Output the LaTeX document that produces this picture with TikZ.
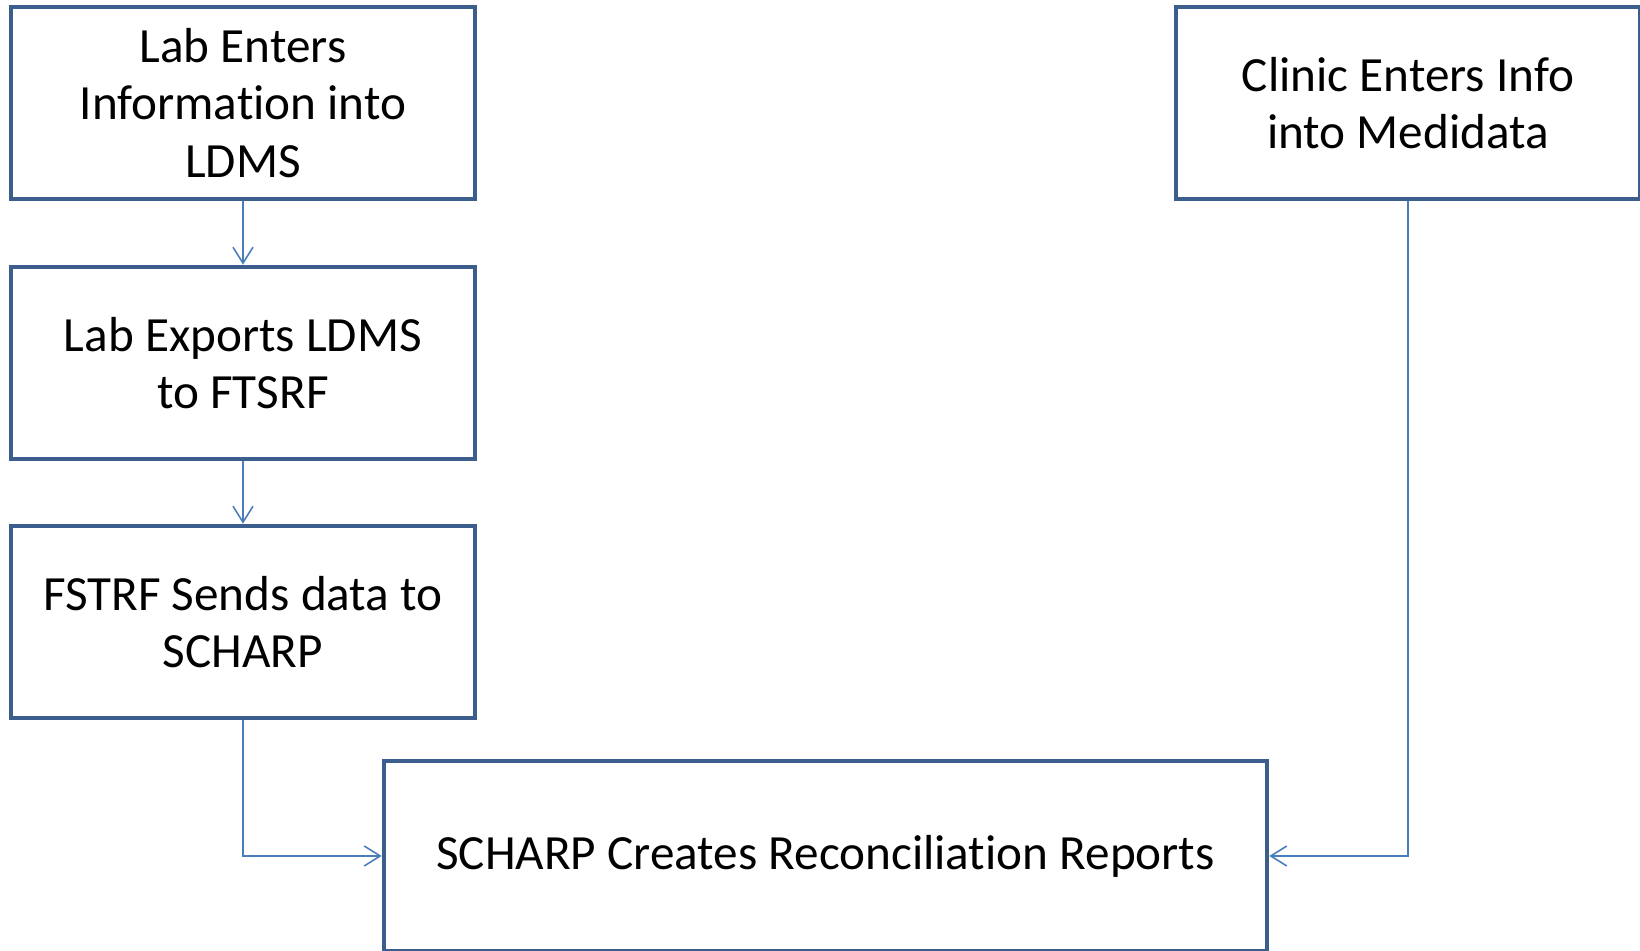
\documentclass[tikz,border=0pt]{standalone}
\usepackage{fontspec}
\setmainfont{Carlito}[Ligatures=NoCommon]
\usepackage{tikz}
\usetikzlibrary{arrows.meta, positioning}

\definecolor{boxblue}{RGB}{59,94,140}
\definecolor{linkblue}{RGB}{74,126,187}

\begin{document}
\begin{tikzpicture}[
    procbox/.style={draw=boxblue, line width=1.3pt, minimum width=4.64cm, minimum height=1.92cm, align=center, font=\fontsize{14}{16.3}\selectfont},
    link/.style={draw=linkblue, line width=0.45pt, -{Straight Barb[length=1.6mm, width=2mm]}}
]
    \useasboundingbox (0,0) rectangle (16.4,9.51);

    % Lab side boxes
    \node[procbox] (enter) at (2.43,8.48) {Lab Enters\\Information into\\LDMS};
    \node[procbox] (export) at (2.43,5.88) {Lab Exports LDMS\\to FTSRF};
    \node[procbox] (send) at (2.43,3.29) {FSTRF Sends data to\\SCHARP};

    % Clinic box
    \node[procbox] (clinic) at (14.08,8.48) {Clinic Enters Info\\into Medidata};

    % Report box
    \node[procbox, minimum width=8.83cm, minimum height=1.90cm] (report) at (8.255,0.95) {SCHARP Creates Reconciliation Reports};

    % Arrows
    \draw[link] (enter) -- (export);
    \draw[link] (export) -- (send);
    \draw[link] (send.south) |- (report.west);
    \draw[link] (clinic.south) |- (report.east);
\end{tikzpicture}
\end{document}
